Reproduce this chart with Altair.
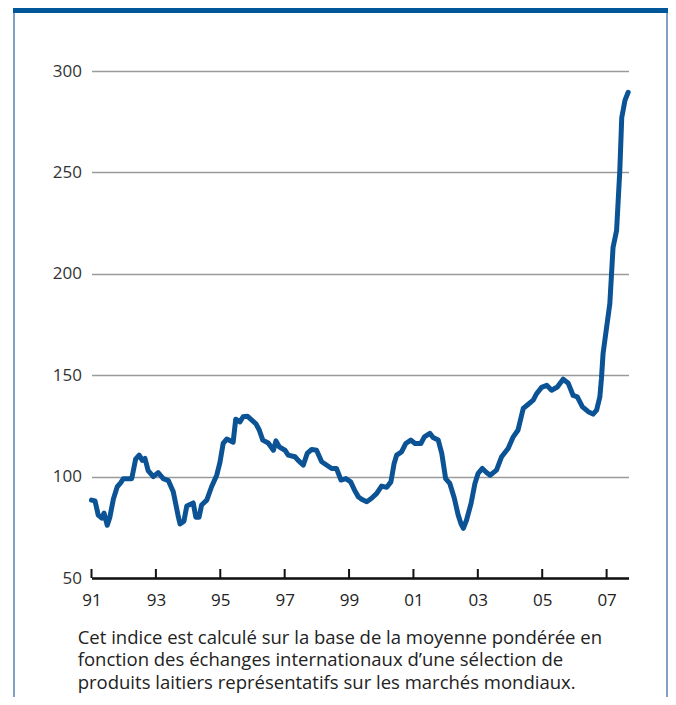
import altair as alt
import pandas as pd

# Dairy price index (approximate readings from the reference)
years = [1991.0, 1991.11, 1991.21, 1991.32, 1991.39, 1991.49, 1991.57, 1991.68, 1991.80, 1991.91,
         1991.99, 1992.25, 1992.37, 1992.48, 1992.58, 1992.66, 1992.76, 1992.92, 1993.07, 1993.23,
         1993.39, 1993.54, 1993.70, 1993.75, 1993.87, 1993.96, 1994.16, 1994.24, 1994.34, 1994.42,
         1994.58, 1994.73, 1994.89, 1994.99, 1995.09, 1995.20, 1995.40, 1995.48, 1995.61, 1995.71,
         1995.84, 1995.98, 1996.11, 1996.21, 1996.32, 1996.49, 1996.65, 1996.73, 1996.83, 1997.01,
         1997.11, 1997.32, 1997.42, 1997.58, 1997.70, 1997.84, 1997.99, 1998.15, 1998.30, 1998.46,
         1998.61, 1998.75, 1998.90, 1999.05, 1999.18, 1999.29, 1999.39, 1999.55, 1999.70, 1999.86,
         2000.01, 2000.17, 2000.30, 2000.40, 2000.48, 2000.63, 2000.76, 2000.92, 2001.05, 2001.23,
         2001.34, 2001.51, 2001.61, 2001.77, 2001.88, 2002.00, 2002.13, 2002.27, 2002.39, 2002.48,
         2002.55, 2002.65, 2002.79, 2002.91, 2003.01, 2003.14, 2003.27, 2003.38, 2003.58, 2003.74,
         2003.94, 2004.10, 2004.25, 2004.41, 2004.53, 2004.72, 2004.83, 2004.98, 2005.14, 2005.29,
         2005.47, 2005.65, 2005.81, 2005.96, 2006.09, 2006.25, 2006.43, 2006.58, 2006.69, 2006.79,
         2006.84, 2006.89, 2007.10, 2007.20, 2007.31, 2007.41, 2007.47, 2007.57, 2007.67]
values = [88.4, 88, 81, 79.5, 82, 76, 80, 89, 95, 97,
          99, 99, 108.6, 110.6, 108, 109, 103, 100, 102, 99,
          98, 92.5, 80, 76.6, 78, 85.5, 87, 80, 80, 86,
          88.4, 95, 100.7, 107, 116.4, 118.5, 117, 128.3, 127, 129.5,
          129.8, 127.8, 126, 123, 118, 116.6, 113, 117.6, 114.7, 113,
          110.6, 109.8, 108, 105.7, 111.4, 113.4, 113, 107.3, 105.7, 104,
          104, 98.3, 99, 97.4, 93, 90, 88.8, 87.6, 89.3, 91.7,
          95.3, 94.7, 97.4, 106.5, 110.6, 112.2, 116.3, 118, 116.3, 116.3,
          119.6, 121.3, 119.3, 118, 111.4, 99, 96.6, 89.3, 81, 76.6,
          74.5, 78.6, 86.8, 96.6, 101.6, 104, 102, 100.7, 103.2, 109.8,
          113.9, 119.6, 123, 133.6, 135.2, 137.7, 141, 144, 145, 142.6,
          144.2, 148, 146, 140, 139.3, 134.4, 132, 130.8, 132.8, 139.3,
          148.4, 160.7, 185.3, 213, 221.4, 251, 277, 285.5, 289.5]

tick_years = [1991, 1993, 1995, 1997, 1999, 2001, 2003, 2005, 2007]
y_ticks = [50, 100, 150, 200, 250, 300]
caption = [
    "Cet indice est calculé sur la base de la moyenne pondérée en",
    "fonction des échanges internationaux d\u2019une sélection de",
    "produits laitiers représentatifs sur les marchés mondiaux.",
]

W, H = 537, 507
PAD_L, PAD_T = 83.5, 63
TOTAL_W, TOTAL_H = 660, 689

FONT = "Open Sans"
LINE_BLUE = "#0b5394"

df = pd.DataFrame({"year": years, "index": values})
xs = alt.Scale(domain=[1991, 2007.68], nice=False, zero=False)
ys = alt.Scale(domain=[50, 300], nice=False, zero=False)

x_axis = alt.Axis(values=tick_years, labelExpr="slice(toString(datum.value), 2)",
                  domain=True, domainColor="#111111", domainWidth=2.5, ticks=False,
                  grid=False, labelFontSize=17, labelColor="#222222", labelFont=FONT,
                  labelPadding=14, labelFlush=False, title=None)
y_axis = alt.Axis(values=y_ticks, domain=False, ticks=False, grid=True,
                  gridColor="#9a9a9a", gridWidth=1.5, labelFontSize=17,
                  labelColor="#333333", labelFont=FONT, labelPadding=10, title=None)

line = alt.Chart(df).mark_line(color=LINE_BLUE, strokeWidth=5, strokeJoin="round",
                               strokeCap="round").encode(
    x=alt.X("year:Q", scale=xs, axis=x_axis),
    y=alt.Y("index:Q", scale=ys, axis=y_axis),
)

ticks = alt.Chart(pd.DataFrame({"year": tick_years})).mark_rule(
    color="#111111", strokeWidth=2).encode(
    x=alt.X("year:Q", scale=xs, axis=x_axis),
    y=alt.value(H), y2=alt.value(H - 9),
)

one = alt.Data(values=[{"k": 1}])

band = alt.Chart(one).mark_rect(color="#00589b").encode(
    x=alt.value(-78.5), x2=alt.value(TOTAL_W - PAD_L),
    y=alt.value(-PAD_T), y2=alt.value(-58),
)
left_frame = alt.Chart(one).mark_rule(color="#5a82b4", strokeWidth=1.5).encode(
    x=alt.value(-77.5), y=alt.value(-58), y2=alt.value(TOTAL_H - PAD_T),
)
right_frame = alt.Chart(one).mark_rule(color="#5a82b4", strokeWidth=1.5).encode(
    x=alt.value(TOTAL_W - PAD_L - 1), y=alt.value(-58), y2=alt.value(TOTAL_H - PAD_T),
)
cap = alt.Chart(one).mark_text(text=caption, align="left", baseline="middle",
                               fontSize=18.5, lineHeight=22.5, font=FONT,
                               color="#222222").encode(
    x=alt.value(-13.8), y=alt.value(566.5),
)

chart = alt.layer(line, ticks, band, left_frame, right_frame, cap).properties(
    width=W, height=H,
    autosize=alt.AutoSizeParams(type="none"),
    padding={"left": PAD_L, "top": PAD_T, "right": TOTAL_W - PAD_L - W,
             "bottom": TOTAL_H - PAD_T - H},
).configure_view(stroke=None)

chart.save("out.html", embed_options={"renderer": "svg", "actions": False})
